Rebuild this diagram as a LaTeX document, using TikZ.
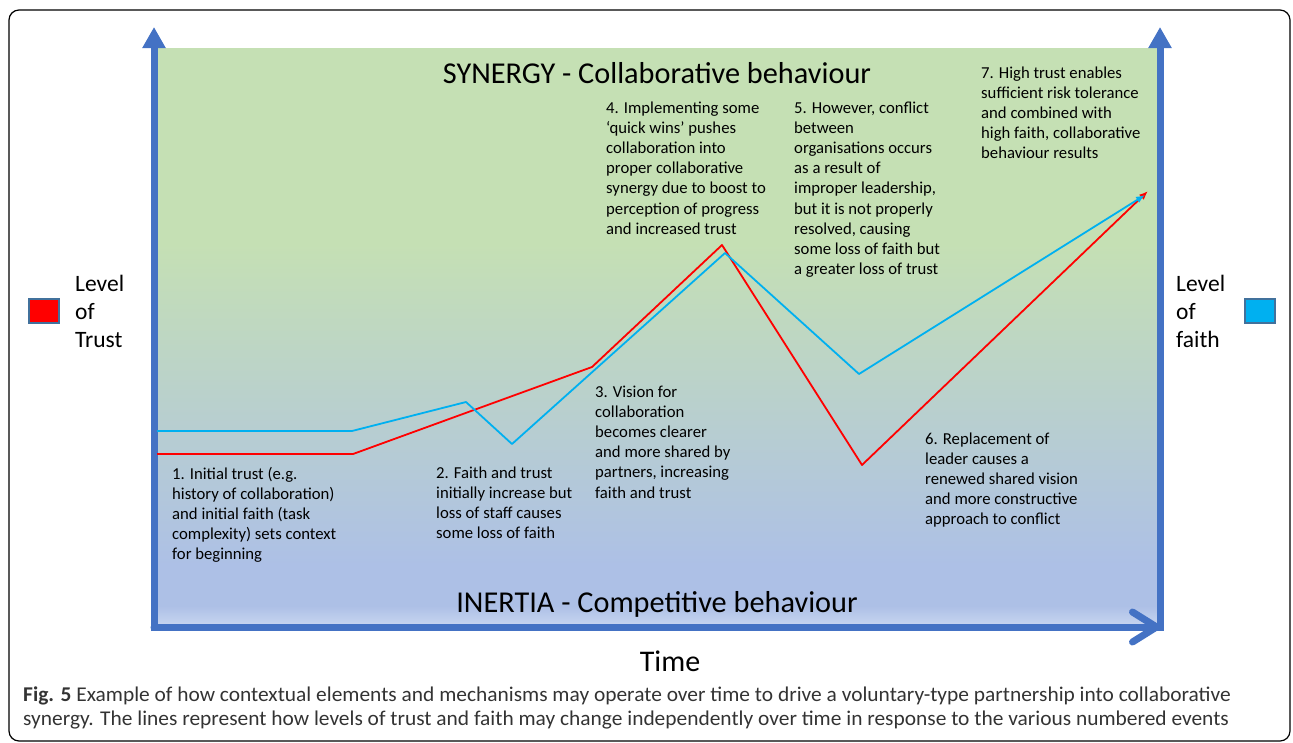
\documentclass[tikz,border=0pt]{standalone}
\usepackage{fontspec}
\setmainfont{Carlito}
\newfontfamily\capfont[FakeStretch=1.02]{Carlito}
\usetikzlibrary{arrows.meta}

\definecolor{axisblue}{HTML}{4472C4}
\definecolor{faithblue}{HTML}{00B0F0}
\definecolor{trustred}{HTML}{FF0000}
\definecolor{syngreen}{HTML}{C5E0B4}
\definecolor{inertblue}{HTML}{ADC0E6}
\definecolor{inertlight}{HTML}{C4D2EF}
\definecolor{keyline}{HTML}{41719C}
\definecolor{captext}{HTML}{333333}

\pgfdeclareverticalshading{behaviour}{100bp}{color(0bp)=(inertlight); color(25bp)=(inertlight);
    color(26.5bp)=(inertblue); color(30bp)=(inertblue); color(58bp)=(syngreen); color(100bp)=(syngreen)}

\begin{document}
\begin{tikzpicture}[
    x=1pt, y=-1pt,
    axis/.style={line width=7pt, draw=axisblue},
    trust/.style={line width=1.8pt, draw=trustred, line join=round, -{Latex[length=9pt,width=7pt]}},
    faith/.style={line width=1.8pt, draw=faithblue, line join=round, -{Latex[length=9pt,width=7pt]}},
    note/.style={font=\fontsize{16.7}{20.2}\selectfont, align=left, anchor=base west, inner sep=0pt},
    head/.style={font=\fontsize{30.3}{34}\selectfont, anchor=base, inner sep=0pt},
    level/.style={font=\fontsize{23.5}{28}\selectfont, align=left, anchor=base west, inner sep=0pt},
    key/.style={draw=keyline, line width=1.2pt, minimum width=30pt, minimum height=24pt, inner sep=0pt}]
    \useasboundingbox (0,0) rectangle (1293,742);

    % Rahmen
    \draw[rounded corners=10pt, line width=1.2pt] (9,10) rectangle (1290,741);

    % Hintergrund
    \fill[shading=behaviour, shading angle=0] (157,48) rectangle (1157,623);

    % Achsen
    \coordinate (origin) at (154,627);
    \coordinate (ytop) at (154,27);
    \coordinate (xend) at (1160,627);
    \coordinate (ztop) at (1160,27);
    \draw[axis, -{Triangle[length=21pt,width=22pt]}] (154,631) -- (ytop);
    \draw[axis, -{Triangle[length=21pt,width=22pt]}] (1160,631) -- (ztop);
    \draw[axis, line cap=round, -{Straight Barb[length=24pt,width=30pt,line cap=round,line join=round]}] (origin) -- (xend);

    % Vertrauen
    \coordinate (t0) at (157,454);
    \coordinate (t1) at (353,454);
    \coordinate (t2) at (592,367);
    \coordinate (t3) at (722,245);
    \coordinate (t4) at (862,465);
    \coordinate (t5) at (1148,191);
    \draw[trust] (t0) -- (t1) -- (t2) -- (t3) -- (t4) -- (t5);

    % Glaube
    \coordinate (f0) at (157,431);
    \coordinate (f1) at (352,431);
    \coordinate (f2) at (466,402);
    \coordinate (f3) at (512,444);
    \coordinate (f4) at (725,253);
    \coordinate (f5) at (859,374);
    \coordinate (f6) at (1145,195);
    \draw[faith] (f0) -- (f1) -- (f2) -- (f3) -- (f4) -- (f5) -- (f6);

    % Ueberschriften
    \node[head] (synergy) at (657,83) {SYNERGY - Collaborative behaviour};
    \node[head] (inertia) at (657,612) {INERTIA - Competitive behaviour};
    \node[head, font=\fontsize{30}{34}\selectfont] (time) at (670,671) {Time};

    % Legende
    \node[key, fill=trustred] (trustkey) at (44,311) {};
    \node[level] (trustlabel) at (75,347) {Level\\of\\Trust};
    \node[key, fill=faithblue] (faithkey) at (1260,311) {};
    \node[level] (faithlabel) at (1176,347) {Level\\of\\faith};

    % Ereignisse (Anker: Grundlinie der letzten Zeile)
    \node[note] (event1) at (172,559.8) {1. Initial trust (e.g.\\history of collaboration)\\and initial faith (task\\complexity) sets context\\for beginning};
    \node[note] (event2) at (436,538.6) {2. Faith and trust\\initially increase but\\loss of staff causes\\some loss of faith};
    \node[note] (event3) at (595,498) {3. Vision for\\collaboration\\becomes clearer\\and more shared by\\partners, increasing\\faith and trust};
    \node[note] (event4) at (606,234.2) {4. Implementing some\\‘quick wins’ pushes\\collaboration into\\proper collaborative\\synergy due to boost to\\perception of progress\\and increased trust};
    \node[note] (event5) at (794,274.6) {5. However, conflict\\between\\organisations occurs\\as a result of\\improper leadership,\\but it is not properly\\resolved, causing\\some loss of faith but\\a greater loss of trust};
    \node[note] (event6) at (925,524.8) {6. Replacement of\\leader causes a\\renewed shared vision\\and more constructive\\approach to conflict};
    \node[note] (event7) at (981,158.8) {7. High trust enables\\sufficient risk tolerance\\and combined with\\high faith, collaborative\\behaviour results};

    % Bildunterschrift
    \node[note, font=\capfont\fontsize{21}{24}\selectfont, text=captext] (caption) at (23,725)
        {\textbf{Fig. 5} Example of how contextual elements and mechanisms may operate over time to drive a voluntary-type partnership into collaborative\\synergy. The lines represent how levels of trust and faith may change independently over time in response to the various numbered events};
\end{tikzpicture}
\end{document}
